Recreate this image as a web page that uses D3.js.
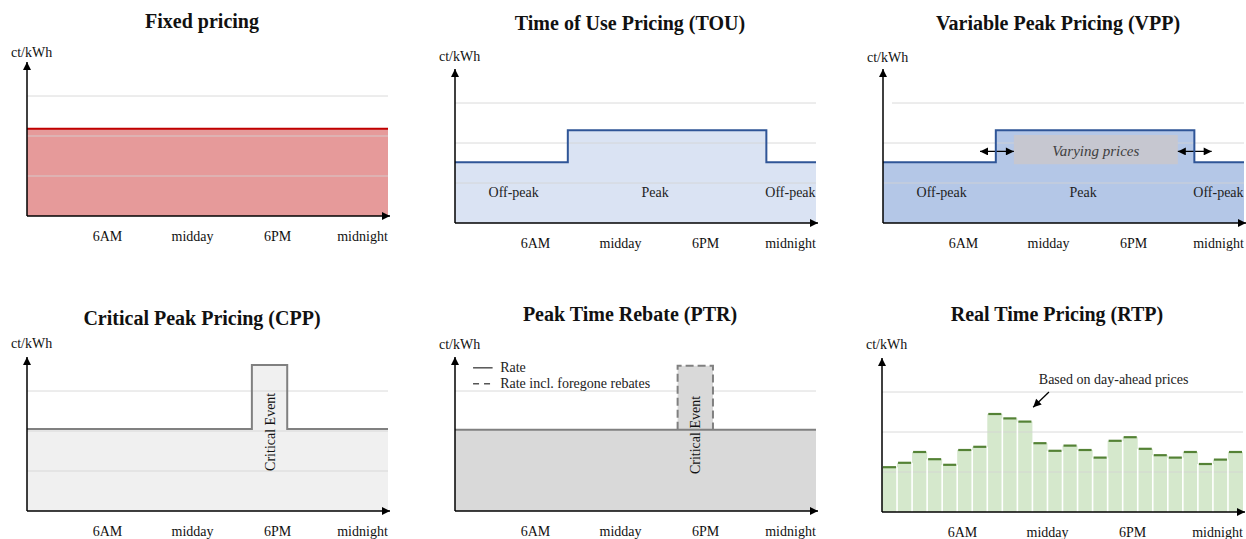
<!DOCTYPE html>
<html><head><meta charset="utf-8">
<script src="https://cdn.jsdelivr.net/npm/d3@7"></script>
<style>
html,body{margin:0;padding:0;background:#fff;}
svg{display:block;font-family:"Liberation Serif","Times New Roman",serif;}
</style></head>
<body><svg id="chart" width="1246" height="539"></svg>
<script>
// ---------- data ----------
const tickLabels = ["6AM", "midday", "6PM", "midnight"];
const gridValues = [1, 2, 3];

const fixedHours = [0, 24];
const fixedPrices = [2.18, 2.18];

const touHours = [0, 7.5, 20.7, 24];
const touPrices = [1.52, 2.32, 1.52, 1.52];

const vppHours = [0, 7.5, 20.7, 24];
const vppPrices = [1.52, 2.32, 1.52, 1.52];
const vppVaryingHours = [8.7, 19.6];
const vppVaryingPrices = [1.47, 2.2];
const vppShiftLeft = [6.45, 8.7];
const vppShiftRight = [19.6, 21.85];
const vppShiftPrice = 1.79;

const periodLabels = ["Off-peak", "Peak", "Off-peak"];
const periodLabelHours = [3.9, 13.3, 22.3];
const periodLabelPrice = 0.65;

const cppHours = [0, 14.95, 17.3, 24];
const cppPrices = [2.05, 3.65, 2.05, 2.05];

const ptrHours = [0, 14.8, 17.15, 24];
const ptrRate = [2.03, 2.03, 2.03, 2.03];
const ptrRateInclRebates = [2.03, 3.63, 2.03, 2.03];
const ptrLegend = ["Rate", "Rate incl. foregone rebates"];

const rtpPrices = [1.12, 1.23, 1.5, 1.32, 1.18, 1.55, 1.63, 2.45, 2.34, 2.26, 1.72, 1.53,
                   1.66, 1.55, 1.36, 1.78, 1.87, 1.58, 1.42, 1.36, 1.5, 1.2, 1.31, 1.5];
const rtpNote = "Based on day-ahead prices";

// ---------- layout ----------
const PW = 361;
const panels = [
  {key:"fixed", title:"Fixed pricing", ox:27, axisY:216, titleY:28, unitY:57},
  {key:"tou", title:"Time of Use Pricing (TOU)", ox:455, axisY:223, titleY:30, unitY:61},
  {key:"vpp", title:"Variable Peak Pricing (VPP)", ox:883, axisY:223, titleY:30, unitY:62},
  {key:"cpp", title:"Critical Peak Pricing (CPP)", ox:27, axisY:511, titleY:325, unitY:348},
  {key:"ptr", title:"Peak Time Rebate (PTR)", ox:455, axisY:511, titleY:321, unitY:349},
  {key:"rtp", title:"Real Time Pricing (RTP)", ox:882, axisY:512, titleY:321, unitY:349}
];

const svg = d3.select("#chart");
const defs = svg.append("defs");
defs.append("marker").attr("id","ah").attr("markerUnits","userSpaceOnUse")
  .attr("viewBox","0 0 10 10").attr("refX",10).attr("refY",5)
  .attr("markerWidth",9).attr("markerHeight",8).attr("orient","auto-start-reverse")
  .append("path").attr("d","M0,0L10,5L0,10Z").attr("fill","#000");

const stepData = (hours, prices) => hours.map((h, i) => ({h, v: prices[i]}));

panels.forEach(p => {
  const g = svg.append("g");
  const x = d3.scaleLinear().domain([0, 24]).range([p.ox, p.ox + PW]);
  const y = d3.scaleLinear().domain([0, 3]).range([p.axisY, p.axisY - 120]);
  const area = d3.area().x(d => x(d.h)).y0(y(0)).y1(d => y(d.v)).curve(d3.curveStepAfter);
  const line = d3.line().x(d => x(d.h)).y(d => y(d.v)).curve(d3.curveStepAfter);

  const drawGrid = (x0) => g.append("g").selectAll("line").data(gridValues).join("line")
      .attr("x1", d => (x0 !== undefined && d === 3) ? x0 : p.ox).attr("x2", p.ox + PW)
      .attr("y1", d => y(d)).attr("y2", d => y(d))
      .attr("stroke", "#d4d4d4").attr("stroke-width", 1).attr("opacity", 0.85);

  if (p.key === "fixed") {
    const d = stepData(fixedHours, fixedPrices);
    g.append("path").attr("d", area(d)).attr("fill", "#e69a9a");
    drawGrid();
    g.append("path").attr("d", line(d)).attr("fill", "none").attr("stroke", "#c00000").attr("stroke-width", 2);
  }
  if (p.key === "tou" || p.key === "vpp") {
    const d = p.key === "tou" ? stepData(touHours, touPrices) : stepData(vppHours, vppPrices);
    g.append("path").attr("d", area(d)).attr("fill", p.key === "tou" ? "#dae3f3" : "#b4c7e7");
    drawGrid(p.key === "vpp" ? p.ox + 9 : undefined);
    if (p.key === "vpp") {
      g.append("rect").attr("x", x(vppVaryingHours[0])).attr("width", x(vppVaryingHours[1]) - x(vppVaryingHours[0]))
        .attr("y", y(vppVaryingPrices[1])).attr("height", y(vppVaryingPrices[0]) - y(vppVaryingPrices[1]))
        .attr("fill", "#c6c7d0");
      g.append("text").attr("x", (x(vppVaryingHours[0]) + x(vppVaryingHours[1])) / 2).attr("y", y(vppShiftPrice) + 5)
        .attr("text-anchor", "middle").attr("font-style", "italic").attr("font-size", 15).attr("fill", "#404040")
        .text("Varying prices");
      [vppShiftLeft, vppShiftRight].forEach(s => {
        g.append("line").attr("x1", x(s[0])).attr("x2", x(s[1])).attr("y1", y(vppShiftPrice)).attr("y2", y(vppShiftPrice))
          .attr("stroke", "#000").attr("stroke-width", 1.3)
          .attr("marker-start", "url(#ah)").attr("marker-end", "url(#ah)");
      });
    }
    g.append("path").attr("d", line(d)).attr("fill", "none").attr("stroke", "#2f5597").attr("stroke-width", 2);
    periodLabels.forEach((t, i) => {
      g.append("text").attr("x", x(periodLabelHours[i])).attr("y", y(periodLabelPrice))
        .attr("text-anchor", "middle").attr("font-size", 14).attr("fill", "#222").text(t);
    });
  }
  if (p.key === "cpp") {
    const d = stepData(cppHours, cppPrices);
    g.append("path").attr("d", area(d)).attr("fill", "#f0f0f0");
    drawGrid();
    g.append("path").attr("d", line(d)).attr("fill", "none").attr("stroke", "#808080").attr("stroke-width", 2);
    const cx = (x(cppHours[1]) + x(cppHours[2])) / 2, cy = y(1.98);
    g.append("text").attr("transform", `translate(${cx + 5},${cy}) rotate(-90)`)
      .attr("text-anchor", "middle").attr("font-size", 14).attr("fill", "#111").text("Critical Event");
  }
  if (p.key === "ptr") {
    const base = stepData(ptrHours, ptrRate);
    const reb = stepData(ptrHours, ptrRateInclRebates);
    g.append("path").attr("d", area(base)).attr("fill", "#d9d9d9");
    drawGrid();
    g.append("path").attr("d", area(reb)).attr("fill", "#d9d9d9");
    // dashed outline only around the rebate spike
    const spike = [
      {h: ptrHours[1], v: ptrRate[1]}, {h: ptrHours[1], v: ptrRateInclRebates[1]},
      {h: ptrHours[2], v: ptrRateInclRebates[1]}, {h: ptrHours[2], v: ptrRate[2]}
    ];
    g.append("path").attr("d", d3.line().x(d => x(d.h)).y(d => y(d.v))(spike))
      .attr("fill", "none").attr("stroke", "#808080")
      .attr("stroke-width", 2).attr("stroke-dasharray", "8,4");
    g.append("path").attr("d", line(base)).attr("fill", "none").attr("stroke", "#808080").attr("stroke-width", 2);
    const cx = (x(ptrHours[1]) + x(ptrHours[2])) / 2, cy = y(1.9);
    g.append("text").attr("transform", `translate(${cx + 5},${cy}) rotate(-90)`)
      .attr("text-anchor", "middle").attr("font-size", 14).attr("fill", "#111").text("Critical Event");
    // legend
    ptrLegend.forEach((t, i) => {
      const ly = y(3.58 - i * 0.4);
      g.append("line").attr("x1", x(1.2)).attr("x2", x(2.5)).attr("y1", ly).attr("y2", ly)
        .attr("stroke", "#555").attr("stroke-width", 1.5).attr("stroke-dasharray", i ? "6,5" : null);
      g.append("text").attr("x", x(3.0)).attr("y", ly + 4.5).attr("font-size", 14).attr("fill", "#222").text(t);
    });
  }
  if (p.key === "rtp") {
    const xb = d3.scaleBand().domain(d3.range(rtpPrices.length)).range([p.ox, p.ox + PW]).padding(0);
    const bw = xb.bandwidth();
    g.append("g").selectAll("rect").data(rtpPrices).join("rect")
      .attr("x", (d, i) => xb(i)).attr("width", bw)
      .attr("y", d => y(d)).attr("height", d => y(0) - y(d))
      .attr("fill", "#d5e8cc");
    drawGrid();
    g.append("g").selectAll("line").data(rtpPrices.slice(1)).join("line")
      .attr("x1", (d, i) => xb(i + 1)).attr("x2", (d, i) => xb(i + 1))
      .attr("y1", y(0)).attr("y2", (d, i) => y(Math.min(d, rtpPrices[i])))
      .attr("stroke", "#fff").attr("stroke-width", 1.6);
    g.append("g").selectAll("line").data(rtpPrices).join("line")
      .attr("x1", (d, i) => xb(i) + 1).attr("x2", (d, i) => xb(i) + bw - 1)
      .attr("y1", d => y(d)).attr("y2", d => y(d))
      .attr("stroke", "#548235").attr("stroke-width", 2.2);
    g.append("text").attr("x", x(15.4)).attr("y", y(3.2)).attr("text-anchor", "middle")
      .attr("font-size", 14).attr("fill", "#222").text(rtpNote);
    g.append("line").attr("x1", x(11.1)).attr("y1", y(3.0)).attr("x2", x(10.05)).attr("y2", y(2.62))
      .attr("stroke", "#000").attr("stroke-width", 1.3).attr("marker-end", "url(#ah)");
  }

  // axes
  g.append("line").attr("x1", p.ox).attr("x2", p.ox).attr("y1", p.axisY).attr("y2", p.axisY - 154)
    .attr("stroke", "#000").attr("stroke-width", 1.5).attr("marker-end", "url(#ah)");
  g.append("line").attr("x1", p.ox).attr("x2", p.ox + PW + 2).attr("y1", p.axisY).attr("y2", p.axisY)
    .attr("stroke", "#000").attr("stroke-width", 1.5).attr("marker-end", "url(#ah)");

  const xl = d3.scalePoint().domain(tickLabels).range([p.ox + 80, p.ox + 335]);
  const ax = g.append("g").attr("transform", `translate(0,${p.axisY})`)
    .call(d3.axisBottom(xl).tickSize(0).tickPadding(15));
  ax.select(".domain").remove();
  ax.selectAll("text").attr("font-size", 14).attr("font-family", "Liberation Serif").attr("fill", "#111");

  g.append("text").attr("x", p.ox - 16).attr("y", p.unitY).attr("font-size", 14).attr("fill", "#111").text("ct/kWh");
  g.append("text").attr("x", p.ox + 175).attr("y", p.titleY).attr("text-anchor", "middle")
    .attr("font-size", 20).attr("font-weight", "bold").attr("fill", "#111").text(p.title);
});
</script></body></html>
